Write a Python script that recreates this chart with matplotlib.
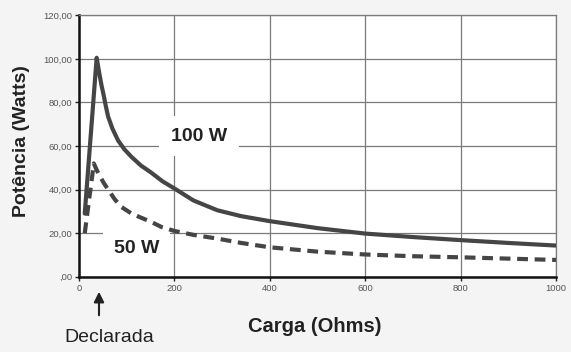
import matplotlib
matplotlib.use("Agg")
import matplotlib.pyplot as plt

plt.rcParams['font.family'] = ['Liberation Sans', 'DejaVu Sans']

# Data
r_100w = [12, 37, 42, 47, 51, 56, 61, 70, 82, 95, 110, 130, 150, 175, 200, 240,
          290, 340, 400, 500, 600, 700, 800, 900, 1000]
p_100w = [29, 100.5, 94, 88, 84, 78.5, 73.5, 68, 62.5, 58.5, 55, 51, 48, 43.8, 40.5, 35,
          30.5, 27.8, 25.5, 22.3, 19.8, 18.2, 16.8, 15.5, 14.3]

r_50w = [12, 31, 37, 44, 52, 61, 75, 89, 110, 131, 150, 173, 200, 240, 290, 340,
         400, 500, 600, 700, 800, 900, 1000]
p_50w = [20, 52, 49, 46, 43, 40, 35.5, 32, 29, 27, 25.3, 22.8, 21, 19.2, 17.5, 15.5,
         13.5, 11.5, 10.2, 9.4, 8.9, 8.3, 7.7]

x_ticks = [0, 200, 400, 600, 800, 1000]
y_ticks = [0, 20, 40, 60, 80, 100, 120]
y_ticklabels = [",00", "20,00", "40,00", "60,00", "80,00", "100,00", "120,00"]

fig = plt.figure(figsize=(5.71, 3.52), dpi=100, facecolor='#f4f4f4')
ax = fig.add_axes([0.1384, 0.2139, 0.9737 - 0.1384, 0.9565 - 0.2139])
ax.set_facecolor('white')

line_col = '#454545'
ax.plot(r_100w, p_100w, color=line_col, lw=3.0, solid_capstyle='round',
        solid_joinstyle='round', zorder=3)
ax.plot(r_50w, p_50w, color=line_col, lw=3.0, linestyle=(0, (2.6, 1.6)), zorder=3)

ax.set_xlim(0, 1000)
ax.set_ylim(0, 120)
ax.set_xticks(x_ticks)
ax.set_xticklabels([str(v) for v in x_ticks])
ax.set_yticks(y_ticks)
ax.set_yticklabels(y_ticklabels)
ax.tick_params(axis='both', labelsize=6.8, colors='#222', labelcolor='#555',
               length=3, width=1, pad=2, direction='out')

ax.grid(True, color='#7a7a7a', lw=0.9)
ax.set_axisbelow(True)
for s in ['top', 'right']:
    ax.spines[s].set_color('#7a7a7a')
    ax.spines[s].set_linewidth(0.9)
for s in ['left', 'bottom']:
    ax.spines[s].set_color('#111')
    ax.spines[s].set_linewidth(1.8)

ax.text(252, 64.5, '100 W', fontsize=14, fontweight='bold', color='#222',
        ha='center', va='center', zorder=2.5,
        bbox=dict(boxstyle='square,pad=0.6', facecolor='white', edgecolor='none'))
ax.text(121, 13, '50 W', fontsize=14, fontweight='bold', color='#222',
        ha='center', va='center', zorder=2.5,
        bbox=dict(boxstyle='square,pad=0.55', facecolor='white', edgecolor='none'))

fig.text(22 / 571, 1 - 141 / 352, 'Potência (Watts)', rotation=90, fontsize=14,
         fontweight='bold', color='#222', ha='center', va='center')
fig.text(315 / 571, 1 - 326 / 352, 'Carga (Ohms)', fontsize=14.5,
         fontweight='bold', color='#222', ha='center', va='center')
fig.text(109 / 571, 1 - 338 / 352, 'Declarada', fontsize=14,
         color='#222', ha='center', va='center')
fig.add_artist(matplotlib.patches.FancyArrowPatch(
    (99 / 571, 1 - 318 / 352), (99 / 571, 1 - 289 / 352),
    transform=fig.transFigure, arrowstyle='-|>,head_length=6,head_width=3',
    color='#222', lw=1.5, mutation_scale=1))

fig.savefig('out.png', dpi=100, facecolor=fig.get_facecolor())
